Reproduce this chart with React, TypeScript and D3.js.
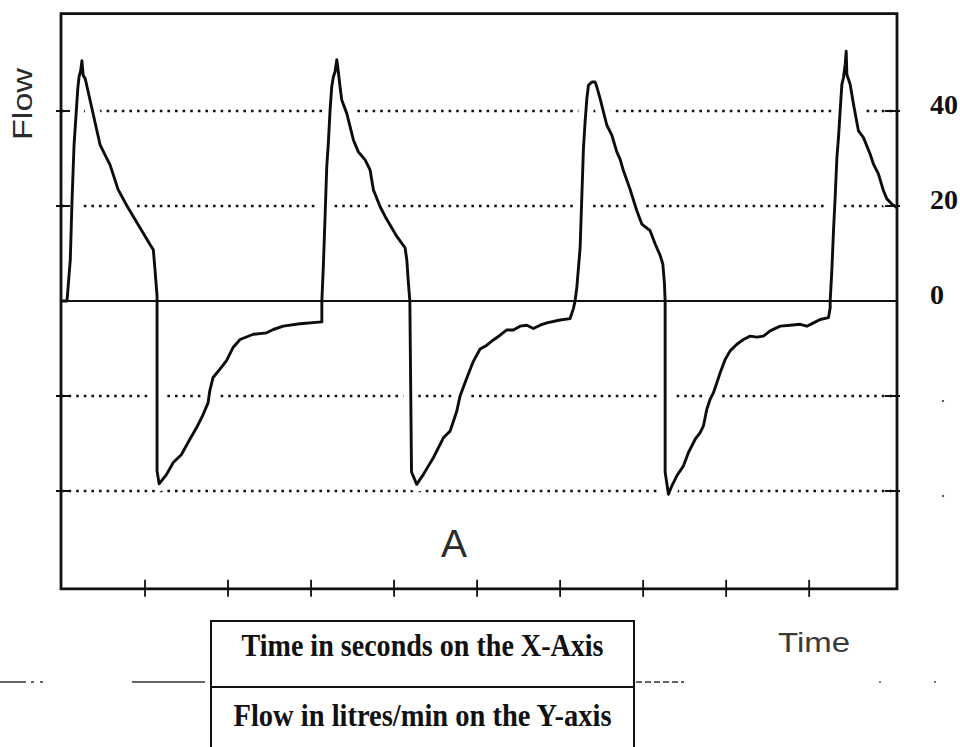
import * as d3 from "d3";
import React from "react";

// flow trace, [seconds, litres/min]
const insp1: [number, number][] = [
	[0, 0], [0.06, 0], [0.1, 8.7], [0.12, 20.8], [0.145, 32.8], [0.19, 44.7],
	[0.205, 47.2], [0.225, 48.5], [0.24, 50.6], [0.255, 47.5], [0.28, 46.8],
	[0.46, 32.8], [0.58, 28.6], [0.675, 23.5], [0.78, 20.1], [0.9, 16.6],
	[1.06, 11.9], [1.1, 10.8], [1.12, 6.6], [1.145, 1.1], [1.145, 0],
];
const exp1: [number, number][] = [
	[1.145, -35.8], [1.17, -38.5], [1.26, -36.5], [1.34, -34.0], [1.44, -32.3],
	[1.54, -29.1], [1.62, -26.7], [1.7, -23.9], [1.76, -21.4], [1.78, -18.9],
	[1.82, -16.1], [1.9, -14.4], [1.98, -12.6], [2.06, -9.8], [2.145, -8.1],
	[2.305, -7.0], [2.465, -6.7], [2.545, -6.0], [2.665, -5.3], [2.865, -4.8],
	[3.13, -4.4], [3.13, 0],
];
const insp2: [number, number][] = [
	[3.148, 7.3], [3.169, 17.8], [3.189, 28.3], [3.208, 33.2], [3.229, 40.2],
	[3.249, 45.1], [3.269, 47.2], [3.289, 48.2], [3.31, 50.8], [3.329, 48.2],
	[3.349, 45.1], [3.37, 42.3], [3.43, 39.5], [3.51, 33.9], [3.57, 31.4],
	[3.651, 29.7], [3.711, 27.6], [3.751, 23.4], [3.831, 19.9], [3.892, 17.8],
	[4.033, 13.6], [4.133, 11.2], [4.153, 8.7], [4.172, 3.9], [4.19, 0],
];
const exp2: [number, number][] = [
	[4.21, -36], [4.273, -38.6], [4.353, -36.5], [4.473, -33.0], [4.594, -28.8],
	[4.675, -27.4], [4.755, -23.2], [4.795, -20.0], [4.876, -16.2], [4.955, -12.7],
	[5.036, -10.1], [5.117, -9.3], [5.196, -8.2], [5.277, -7.2], [5.358, -6.1],
	[5.437, -6.1], [5.518, -5.3], [5.599, -5.1], [5.678, -5.8], [5.759, -5.1],
	[5.84, -4.6], [6.0, -4.0], [6.12, -3.7], [6.16, -1.6], [6.18, 0],
];
const insp3: [number, number][] = [
	[6.201, 2.8], [6.241, 11.2], [6.261, 21.7], [6.281, 32.1], [6.301, 37.7],
	[6.322, 42.6], [6.341, 45.4], [6.382, 46.1], [6.422, 46.1], [6.442, 45.1],
	[6.482, 42.6], [6.522, 39.8], [6.563, 37.0], [6.623, 34.9], [6.683, 31.4],
	[6.723, 29.8], [6.763, 27.4], [6.843, 23.5], [6.924, 19.0], [6.984, 16.2],
	[7.084, 14.8], [7.145, 12.0], [7.205, 9.6], [7.237, 7.8], [7.257, 3.6],
	[7.265, 0],
];
const exp3: [number, number][] = [
	[7.265, -36], [7.305, -40.7], [7.346, -38.9], [7.406, -36.8], [7.486, -34.7],
	[7.546, -31.9], [7.627, -29.1], [7.687, -27.7], [7.726, -26.3], [7.767, -22.8],
	[7.807, -20.7], [7.847, -19.3], [7.888, -17.2], [7.928, -15.1], [7.988, -12.3],
	[8.048, -10.5], [8.129, -9.1], [8.208, -8.1], [8.289, -7.4], [8.37, -7.6],
	[8.449, -7.4], [8.53, -6.3], [8.651, -5.3], [8.771, -5.1], [8.892, -4.9],
	[8.972, -5.3], [9.052, -4.6], [9.133, -3.9], [9.233, -3.5], [9.253, -1.4],
	[9.253, 0],
];
const insp4: [number, number][] = [
	[9.273, 6.4], [9.293, 14.8], [9.313, 21.8], [9.334, 30.2], [9.353, 34.4],
	[9.373, 40.0], [9.394, 45.6], [9.413, 47.0], [9.434, 49.8], [9.446, 52.6],
	[9.454, 47.7], [9.494, 45.6], [9.534, 41.4], [9.594, 35.8], [9.654, 34.4],
	[9.735, 30.9], [9.775, 28.8], [9.835, 26.7], [9.895, 23.2], [9.936, 21.5],
	[9.996, 20.4], [10.056, 19.7],
];

const tickSeconds = [1, 2, 3, 4, 5, 6, 7, 8, 9];
const gridFlows = [40, 20, -20, -40];
const labelFlows = [40, 20, 0];
const lostLabelFlows = [-20, -40];
const tableRows = ["Time in seconds on the X-Axis", "Flow in litres/min on the Y-axis"];

const W = 960;
const H = 747;

const App = () => {
	const x = d3.scaleLinear().domain([0, 10.07]).range([62, 898]);
	const y = d3.scaleLinear().domain([-60, 60]).range([586, 16]);

	const trace = [...insp1, ...exp1, ...insp2, ...exp2, ...insp3, ...exp3, ...insp4];
	const line = d3
		.line<[number, number]>()
		.x((d) => x(d[0]))
		.y((d) => y(d[1]));
	const path = line(trace) ?? "";

	const left = x(0) - 1;
	const right = x(10.07) - 1;
	const top = y(60.5);
	const bottom = y(-60.6);

	const sans = "'Liberation Sans', Arial, sans-serif";
	const serif = "'Liberation Serif', 'Times New Roman', serif";

	const boxL = 211;
	const boxR = 634;
	const boxTop = 621;
	const rowH = 66;

	return (
		<svg
			width={W}
			height={H}
			viewBox={`0 0 ${W} ${H}`}
			style={{ position: "absolute", left: 0, top: 0, background: "#fff" }}
		>
			<rect width={W} height={H} fill="#fff" />

			{/* dotted gridlines */}
			{gridFlows.map((f) => (
				<line
					key={f}
					x1={left}
					x2={right}
					y1={y(f)}
					y2={y(f)}
					stroke="#111"
					strokeWidth={2.7}
					strokeDasharray="2.6 5"
				/>
			))}

			{/* white halo so the dots stop short of the trace */}
			<path d={path} fill="none" stroke="#fff" strokeWidth={15} strokeLinejoin="round" />

			{/* short solid ticks where gridlines meet the sides */}
			{gridFlows.map((f) => (
				<g key={"t" + f} stroke="#111" strokeWidth={2}>
					<line x1={left - 5} x2={left + 9} y1={y(f)} y2={y(f)} />
					<line x1={right - 12} x2={right + 3} y1={y(f)} y2={y(f)} />
				</g>
			))}

			{/* zero line */}
			<line x1={left} x2={right} y1={y(0)} y2={y(0)} stroke="#111" strokeWidth={2.2} />

			{/* frame */}
			<rect
				x={left}
				y={top}
				width={right - left}
				height={bottom - top}
				fill="none"
				stroke="#111"
				strokeWidth={2.8}
			/>

			{/* time ticks */}
			{tickSeconds.map((t) => (
				<line
					key={t}
					x1={x(t)}
					x2={x(t)}
					y1={bottom - 9}
					y2={bottom + 8}
					stroke="#111"
					strokeWidth={1.8}
				/>
			))}

			{/* trace */}
			<path
				d={path}
				fill="none"
				stroke="#0d0d0d"
				strokeWidth={2.9}
				strokeLinejoin="round"
			/>

			{/* right-hand flow labels */}
			{labelFlows.map((f) => (
				<text
					key={"l" + f}
					x={930}
					y={y(f) - 3}
					dominantBaseline="middle"
					fontFamily={serif}
					fontWeight="bold"
					fontSize={28}
					fill="#111"
				>
					{f}
				</text>
			))}
			{lostLabelFlows.map((f) => (
				<circle key={"d" + f} cx={943} cy={y(f) + 5} r={1.1} fill="#333" />
			))}

			<text
				transform={`translate(32,104) rotate(-90)`}
				textAnchor="middle"
				fontFamily={sans}
				fontSize={27}
				textLength={72}
				lengthAdjust="spacingAndGlyphs"
				fill="#2b2b2b"
			>
				Flow
			</text>

			<text
				x={454}
				y={557}
				textAnchor="middle"
				fontFamily={sans}
				fontSize={39}
				fill="#2b2b2b"
			>
				A
			</text>

			<text
				x={778}
				y={652}
				fontFamily={sans}
				fontSize={27}
				textLength={72}
				lengthAdjust="spacingAndGlyphs"
				fill="#3a3a3a"
			>
				Time
			</text>

			{/* broken dashed rule behind the table */}
			<g stroke="#333" strokeWidth={1.5}>
				<line x1={0} x2={26} y1={682} y2={682} />
				<line x1={31} x2={34} y1={682} y2={682} />
				<line x1={40} x2={43} y1={682} y2={682} />
				<line x1={132} x2={205} y1={682} y2={682} />
				<line x1={636} x2={684} y1={682} y2={682} strokeDasharray="6 3" />
			</g>
			<circle cx={880} cy={682} r={0.9} fill="#444" />
			<circle cx={935} cy={682} r={1} fill="#444" />

			{/* caption table */}
			<rect
				x={boxL}
				y={boxTop}
				width={boxR - boxL}
				height={rowH * 2 + 10}
				fill="#fff"
				stroke="#111"
				strokeWidth={2}
			/>
			<line x1={boxL} x2={boxR} y1={boxTop + rowH} y2={boxTop + rowH} stroke="#111" strokeWidth={2} />
			{tableRows.map((r, i) => (
				<text
					key={r}
					x={(boxL + boxR) / 2}
					y={boxTop + 35 + i * (rowH + 4)}
					textAnchor="middle"
					fontFamily={serif}
					fontWeight="bold"
					fontSize={31}
					textLength={i === 0 ? 362 : 378}
					lengthAdjust="spacingAndGlyphs"
					fill="#111"
				>
					{r}
				</text>
			))}
		</svg>
	);
};

export default App;
